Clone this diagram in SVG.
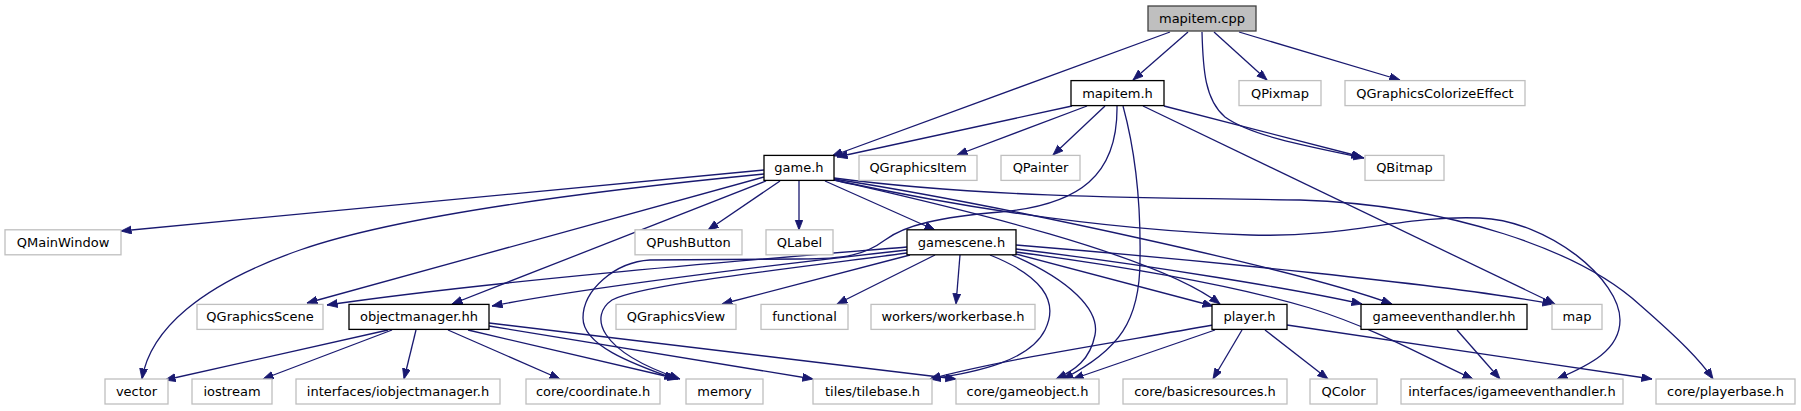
<svg xmlns="http://www.w3.org/2000/svg" width="1801" height="411" viewBox="0 0 1801 411">
<style>
.n rect{fill:#fff;stroke:#bfbfbf;stroke-width:1.3}
.n.d rect{stroke:#000}
.n.r rect{fill:#bfbfbf;stroke:#404040}
.n text{font-family:"DejaVu Sans",sans-serif;font-size:13px;text-anchor:middle;fill:#000}
#edges path{fill:none;stroke:#191970;stroke-width:1.3;marker-end:url(#a)}
</style>
<defs>
<marker id="a" markerUnits="userSpaceOnUse" markerWidth="12" markerHeight="10" refX="10.5" refY="4" orient="auto"><path d="M0,0 L10.5,4 L0,8 z" fill="#191970" stroke="#191970" stroke-width="0.8"/></marker>
</defs>
<rect width="1801" height="411" fill="#fff"/>
<g id="edges">
<path d="M1170,32 L832,156"/>
<path d="M1188,32 L1133,80"/>
<path d="M1214,32 L1267,80"/>
<path d="M1239,32 L1400,80"/>
<path d="M1202,32 C1203,70 1205,100 1225,117 C1250,135 1300,145 1364,158"/>
<path d="M1072,106 L837,157"/>
<path d="M1087,106 L957,155"/>
<path d="M1105,106 L1053,155"/>
<path d="M1117,106 C1118,175 1080,205 1000,212 C940,217 905,225 885,240 C865,255 845,259 800,259 L650,260 C615,262 583,290 583,318 C583,345 630,363 675,379"/>
<path d="M1123,106 C1135,150 1141,200 1140,260 C1140,320 1120,350 1063,379"/>
<path d="M1143,106 L1555,304"/>
<path d="M1164,106 L1362,157"/>
<path d="M764,170 L121,231"/>
<path d="M764,174 C600,190 400,215 300,250 C200,285 150,330 142,379"/>
<path d="M764,177 L307,303"/>
<path d="M766,181 L452,304"/>
<path d="M780,181 L708,230"/>
<path d="M799,181 L799,230"/>
<path d="M825,181 L935,230"/>
<path d="M834,180 C920,200 1150,250 1220,304"/>
<path d="M834,179 C1000,205 1300,270 1392,304"/>
<path d="M834,178 C1000,200 1200,198 1300,200 C1450,205 1580,250 1640,305 C1680,340 1700,360 1713,379"/>
<path d="M834,180 C950,205 1100,230 1250,235 C1350,238 1400,215 1480,218 C1550,221 1620,280 1620,320 C1620,350 1590,365 1557,379"/>
<path d="M907,247 C750,260 500,280 327,305"/>
<path d="M907,250 C800,262 600,285 492,306"/>
<path d="M910,255 L722,304"/>
<path d="M935,255 L837,304"/>
<path d="M960,255 L956,304"/>
<path d="M907,253 C780,270 640,285 612,300 C590,315 595,350 680,379"/>
<path d="M990,255 C1040,275 1060,300 1045,330 C1030,360 980,372 930,379"/>
<path d="M1012,255 C1070,280 1100,310 1095,335 C1090,360 1075,370 1056,379"/>
<path d="M1016,254 L1213,306"/>
<path d="M1016,249 C1150,265 1300,290 1362,304"/>
<path d="M1016,245 C1200,260 1450,285 1553,304"/>
<path d="M1016,252 C1150,270 1250,290 1310,308 C1380,330 1430,360 1473,379"/>
<path d="M1213,325 C1100,345 1000,360 930,379"/>
<path d="M1215,330 L1073,379"/>
<path d="M1242,330 L1213,379"/>
<path d="M1265,330 L1328,379"/>
<path d="M1287,325 L1652,379"/>
<path d="M1457,330 L1500,379"/>
<path d="M388,330 L165,380"/>
<path d="M392,330 L263,379"/>
<path d="M416,330 L404,379"/>
<path d="M448,330 L560,379"/>
<path d="M468,330 L678,379"/>
<path d="M489,326 L813,379"/>
<path d="M489,323 L956,379"/>
</g>
<g id="mapitem_cpp" class="n r"><rect x="1148" y="6" width="108" height="25"/><text x="1202" y="23">mapitem.cpp</text></g>
<g id="mapitem_h" class="n d"><rect x="1071" y="80.6" width="93" height="25"/><text x="1117.5" y="97.6">mapitem.h</text></g>
<g id="QPixmap" class="n"><rect x="1239" y="80.6" width="82" height="25"/><text x="1280" y="97.6">QPixmap</text></g>
<g id="QGraphicsColorizeEffect" class="n"><rect x="1345" y="80.6" width="180" height="25"/><text x="1435" y="97.6">QGraphicsColorizeEffect</text></g>
<g id="game_h" class="n d"><rect x="764" y="155.4" width="70" height="25"/><text x="799" y="172.4">game.h</text></g>
<g id="QGraphicsItem" class="n"><rect x="859" y="155.4" width="118" height="25"/><text x="918" y="172.4">QGraphicsItem</text></g>
<g id="QPainter" class="n"><rect x="1001" y="155.4" width="79" height="25"/><text x="1040.5" y="172.4">QPainter</text></g>
<g id="QBitmap" class="n"><rect x="1365" y="155.4" width="79" height="25"/><text x="1404.5" y="172.4">QBitmap</text></g>
<g id="QMainWindow" class="n"><rect x="5" y="229.8" width="116" height="25"/><text x="63" y="246.8">QMainWindow</text></g>
<g id="QPushButton" class="n"><rect x="635" y="229.8" width="107" height="25"/><text x="688.5" y="246.8">QPushButton</text></g>
<g id="QLabel" class="n"><rect x="766" y="229.8" width="67" height="25"/><text x="799.5" y="246.8">QLabel</text></g>
<g id="gamescene_h" class="n d"><rect x="907" y="229.8" width="109" height="25"/><text x="961.5" y="246.8">gamescene.h</text></g>
<g id="QGraphicsScene" class="n"><rect x="197" y="304.4" width="126" height="25"/><text x="260" y="321.4">QGraphicsScene</text></g>
<g id="objectmanager_hh" class="n d"><rect x="349" y="304.4" width="140" height="25"/><text x="419" y="321.4">objectmanager.hh</text></g>
<g id="QGraphicsView" class="n"><rect x="616" y="304.4" width="120" height="25"/><text x="676" y="321.4">QGraphicsView</text></g>
<g id="functional" class="n"><rect x="761" y="304.4" width="87" height="25"/><text x="804.5" y="321.4">functional</text></g>
<g id="workerbase_h" class="n"><rect x="871" y="304.4" width="164" height="25"/><text x="953" y="321.4">workers/workerbase.h</text></g>
<g id="player_h" class="n d"><rect x="1212" y="304.4" width="75" height="25"/><text x="1249.5" y="321.4">player.h</text></g>
<g id="gameeventhandler_hh" class="n d"><rect x="1361" y="304.4" width="166" height="25"/><text x="1444" y="321.4">gameeventhandler.hh</text></g>
<g id="map" class="n"><rect x="1552" y="304.4" width="50" height="25"/><text x="1577" y="321.4">map</text></g>
<g id="vector" class="n"><rect x="105" y="379" width="63" height="25"/><text x="136.5" y="396">vector</text></g>
<g id="iostream" class="n"><rect x="192" y="379" width="80" height="25"/><text x="232" y="396">iostream</text></g>
<g id="iobjectmanager_h" class="n"><rect x="296" y="379" width="204" height="25"/><text x="398" y="396">interfaces/iobjectmanager.h</text></g>
<g id="coordinate_h" class="n"><rect x="526" y="379" width="134" height="25"/><text x="593" y="396">core/coordinate.h</text></g>
<g id="memory" class="n"><rect x="686" y="379" width="77" height="25"/><text x="724.5" y="396">memory</text></g>
<g id="tilebase_h" class="n"><rect x="813" y="379" width="119" height="25"/><text x="872.5" y="396">tiles/tilebase.h</text></g>
<g id="gameobject_h" class="n"><rect x="956" y="379" width="143" height="25"/><text x="1027.5" y="396">core/gameobject.h</text></g>
<g id="basicresources_h" class="n"><rect x="1123" y="379" width="164" height="25"/><text x="1205" y="396">core/basicresources.h</text></g>
<g id="QColor" class="n"><rect x="1310" y="379" width="67" height="25"/><text x="1343.5" y="396">QColor</text></g>
<g id="igameeventhandler_h" class="n"><rect x="1401" y="379" width="222" height="25"/><text x="1512" y="396">interfaces/igameeventhandler.h</text></g>
<g id="playerbase_h" class="n"><rect x="1656" y="379" width="139" height="25"/><text x="1725.5" y="396">core/playerbase.h</text></g>
</svg>
